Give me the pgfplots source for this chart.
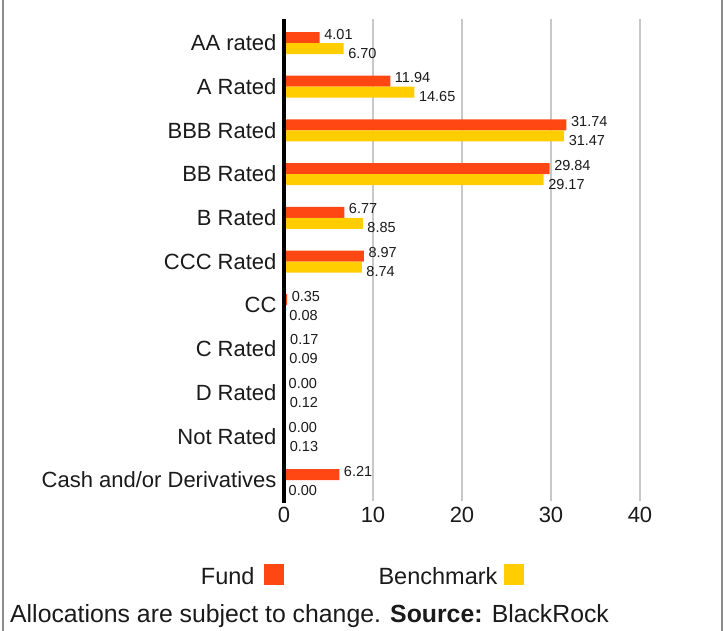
\documentclass[border=0pt]{standalone}
\usepackage{pgfplots}
\pgfplotsset{compat=1.18}
\usepackage{fontspec}
\setmainfont{Liberation Sans}
\definecolor{fund}{HTML}{FF4713}
\definecolor{bench}{HTML}{FFCD00}
\definecolor{txt}{HTML}{1A1A1A}
\definecolor{gridgray}{HTML}{C8C8C8}
\definecolor{framegray}{HTML}{8C8C8C}
\begin{document}
\begin{tikzpicture}[x=1pt,y=1pt]
\useasboundingbox (0,0) rectangle (724,631);
\draw[framegray, line width=2pt] (2.5,0) -- (2.5,631);
\draw[framegray, line width=2pt] (722,0) -- (722,631);
\begin{axis}[
  at={(284pt,130pt)}, anchor=south west,
  scale only axis, width=356pt, height=482pt,
  xmin=0, xmax=40, ymin=-0.55, ymax=10.48, y dir=reverse,
  clip=false,
  xbar, bar width=11pt,
  axis line style={draw=none},
  major tick length=0pt,
  xtick={0,10,20,30,40},
  ytick={0,1,2,3,4,5,6,7,8,9,10},
  yticklabels={AA rated,A Rated,BBB Rated,BB Rated,B Rated,CCC Rated,CC,C Rated,D Rated,Not Rated,Cash and/or Derivatives},
  xmajorgrids, grid style={color=gridgray, line width=2pt},
  tick label style={font=\fontsize{22}{26}\selectfont, text=txt},
  yticklabel style={xshift=-4pt},
  xticklabel style={yshift=-3pt},
  /pgf/number format/assume math mode=true,
  nodes near coords, point meta=x,
  nodes near coords style={font=\fontsize{14.5}{17}\selectfont, text=txt, anchor=west, inner sep=4.5pt,
    /pgf/number format/fixed, /pgf/number format/fixed zerofill, /pgf/number format/precision=2},
  legend plot pos=right, legend columns=2,
  legend style={at={(-0.2337,-0.1297)}, anchor=north west, draw=none, fill=none, inner sep=0pt, column sep=0pt,
    font=\fontsize{23.5}{28}\selectfont, text=txt, nodes={inner sep=0pt}},
]
\addplot[draw=none, fill=fund, bar shift=5.5pt,
  every node near coord/.append style={yshift=3.5pt},
  legend image code/.code={\path (0pt,0pt) (124pt,0pt); \fill[fund] (9pt,-8.4pt) rectangle (29pt,12.6pt);}]
  coordinates {(4.01,0) (11.94,1) (31.74,2) (29.84,3) (6.77,4) (8.97,5) (0.35,6) (0.17,7) (0.00,8) (0.00,9) (6.21,10)};
\addlegendentry{Fund}
\addplot[draw=none, fill=bench, bar shift=-5.5pt,
  every node near coord/.append style={yshift=-4.5pt},
  legend image code/.code={\path (0pt,0pt); \fill[bench] (7pt,-8.4pt) rectangle (27pt,12.6pt);}]
  coordinates {(6.70,0) (14.65,1) (31.47,2) (29.17,3) (8.85,4) (8.74,5) (0.08,6) (0.09,7) (0.12,8) (0.13,9) (0.00,10)};
\addlegendentry{Benchmark}
\draw[black, line width=4.3pt] (axis cs:0,-0.55) -- ++(0pt,-484pt);
\end{axis}
\node[anchor=base west, inner sep=0pt, text=txt, font=\fontsize{24.8}{30}\selectfont] at (10,8) {Allocations are subject to change. \textbf{Source:} BlackRock};
\end{tikzpicture}
\end{document}
